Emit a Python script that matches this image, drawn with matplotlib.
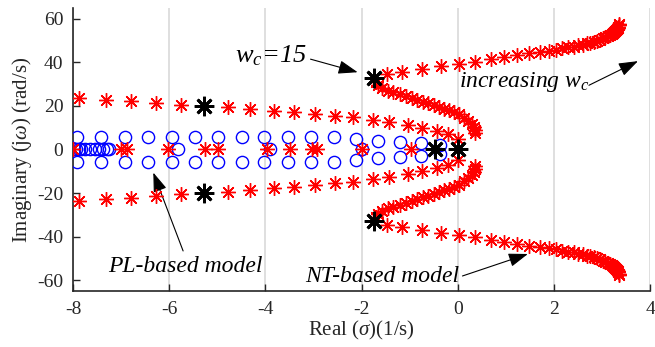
import matplotlib
matplotlib.use("Agg")
import matplotlib.pyplot as plt
import numpy as np

plt.rcParams['font.family'] = ['Liberation Serif', 'DejaVu Serif']
plt.rcParams['mathtext.fontset'] = 'custom'
plt.rcParams['mathtext.rm'] = 'Liberation Serif'
plt.rcParams['mathtext.it'] = 'Liberation Serif:italic'
plt.rcParams['axes.unicode_minus'] = False

# ---- PL-based model poles (blue circles) ----
pl_cplx_re = [-7.92, -7.42, -6.92, -6.44, -5.94, -5.46, -4.98, -4.48, -4.02,
              -3.52, -3.06, -2.58, -2.12, -1.66, -1.20, -0.76, -0.37]
pl_cplx_im = [5.9, 5.9, 5.9, 5.9, 5.9, 5.9, 5.9, 5.9, 5.9,
              5.9, 5.8, 5.6, 5.0, 4.1, 3.5, 3.0, 2.2]
pl_real = [-7.98, -7.93, -7.88, -7.83, -7.75, -7.65, -7.55, -7.45, -7.37,
           -7.30, -7.25, -5.81, -3.90, -1.99]

# ---- NT-based model poles (red asterisks) ----
# branch starting near (-8, +/-23)
nt_mid_re = [-7.875, -7.31, -6.79, -6.27, -5.75, -4.77, -4.31, -3.83, -3.40,
             -2.96, -2.56, -2.17, -1.77, -1.42, -1.04, -0.75, -0.42, -0.21, 0.0]
nt_mid_im = [23.5, 22.6, 22.2, 21.2, 20.3, 19.4, 18.5, 17.5, 17.1,
             16.2, 15.2, 14.8, 13.4, 12.5, 11.1, 9.7, 8.3, 6.9, 5.0]
# inner part of the S-shaped branch
nt_s_re = [0.37, 0.36, 0.33, 0.30, 0.22, 0.14, 0.03, -0.08, -0.18, -0.29,
           -0.39, -0.50, -0.62, -0.73, -0.85, -0.96, -1.08, -1.20, -1.34,
           -1.45, -1.57, -1.65, -1.70]
nt_s_im = [7.5, 9.0, 10.5, 11.6, 13.2, 14.6, 16.3, 17.2, 18.1, 18.8,
           19.6, 20.5, 21.3, 22.0, 22.7, 23.7, 24.6, 25.4, 26.3,
           27.1, 28.1, 29.6, 31.0]
# outer part of the S-shaped branch
nt_far_re = [-1.46, -1.15, -0.74, -0.35, 0.03, 0.37, 0.69, 0.96, 1.24, 1.49,
             1.71, 1.90, 2.05, 2.18, 2.30, 2.41, 2.51, 2.60, 2.68, 2.76, 2.83,
             2.90, 2.96, 3.02, 3.07, 3.12, 3.16, 3.20, 3.23, 3.26, 3.28, 3.30,
             3.32, 3.33, 3.34, 3.35, 3.35]
nt_far_im = [34.9, 35.8, 36.9, 38.4, 39.5, 40.4, 41.5, 42.3, 43.3, 44.1,
             44.8, 45.4, 45.9, 46.4, 46.9, 47.3, 47.8, 48.2, 48.7, 49.1, 49.6,
             50.0, 50.5, 51.0, 51.5, 52.0, 52.5, 53.0, 53.5, 54.0, 54.5, 55.0,
             55.5, 56.0, 56.5, 57.0, 57.5]
nt_real = [-8.0, -7.0, -6.88, -6.02, -5.25, -4.98, -3.97, -3.48, -3.02,
           -2.92, -1.98, -0.98]

# ---- poles at w_c = 15 (black asterisks) ----
wc15_re = [-5.27, -5.27, -1.75, -1.75, -0.47, 0.0]
wc15_im = [19.8, -19.8, 32.8, -32.8, 0.0, 0.0]

xticks = [-8, -6, -4, -2, 0, 2, 4]
yticks = [-60, -40, -20, 0, 20, 40, 60]

fig = plt.figure(figsize=(6.55, 3.47), dpi=100)
ax = fig.add_axes([73 / 655, 1 - 291 / 347, 577 / 655, 283 / 347])

star = (8, 2, 0)

def conj(re, im):
    re = np.asarray(re)
    im = np.asarray(im)
    return np.concatenate([re, re]), np.concatenate([im, -im])

bx, by = conj(pl_cplx_re, pl_cplx_im)
bx = np.concatenate([bx, pl_real])
by = np.concatenate([by, np.zeros(len(pl_real))])
ax.plot(bx, by, linestyle='none', marker='o', markersize=8.8,
        markerfacecolor='none', markeredgecolor='#0000ff', markeredgewidth=1.0,
        zorder=3)

rx, ry = [], []
for re, im in [(nt_mid_re, nt_mid_im), (nt_s_re, nt_s_im), (nt_far_re, nt_far_im)]:
    a, b = conj(re, im)
    rx.append(a)
    ry.append(b)
rx.append(np.asarray(nt_real))
ry.append(np.zeros(len(nt_real)))
rx = np.concatenate(rx)
ry = np.concatenate(ry)
ax.plot(rx, ry, linestyle='none', marker=star, markersize=10.5,
        markeredgecolor='#ff0000', markerfacecolor='#ff0000', markeredgewidth=1.0,
        zorder=4)

ax.plot(wc15_re, wc15_im, linestyle='none', marker=star, markersize=14,
        markeredgecolor='k', markeredgewidth=2.0, zorder=5)

ax.set_xlim(-8, 4)
ax.set_ylim(-65, 65)
ax.set_xticks(xticks)
ax.set_yticks(yticks)
ax.set_xticklabels([str(v) for v in xticks])
ax.set_yticklabels([str(v) for v in yticks])
ax.tick_params(direction='in', length=5, width=1.0, labelsize=14,
               colors='#262626', pad=7)
ax.grid(axis='x', color='#d9d9d9', linewidth=1.2)
ax.set_axisbelow(True)
for s in ['top', 'right']:
    ax.spines[s].set_visible(False)
for s in ['left', 'bottom']:
    ax.spines[s].set_linewidth(1.2)
    ax.spines[s].set_color('#262626')

ax.set_xlabel(r'Real ($\sigma$)(1/s)', fontsize=15, color='#262626', labelpad=1)
ax.set_ylabel(r'Imaginary (j$\omega$) (rad/s)', fontsize=15, color='#262626',
              labelpad=2)

arrow = dict(arrowstyle='-|>,head_length=0.85,head_width=0.3', color='k',
             lw=0.8, shrinkA=0, shrinkB=0, mutation_scale=14)

ax.text(-4.63, 40.1, r'$w_c$=15', fontsize=19, style='italic')
ax.annotate('', xy=(-2.08, 35.5), xytext=(-3.06, 41.5), arrowprops=arrow)

ax.text(0.02, 28.6, r'increasing $w_c$', fontsize=17, style='italic')
ax.annotate('', xy=(3.75, 40.6), xytext=(2.73, 29.5), arrowprops=arrow)

ax.text(-7.27, -56.3, 'PL-based model', fontsize=17, style='italic')
ax.annotate('', xy=(-6.33, -10.6), xytext=(-5.71, -46.6), arrowprops=arrow)

ax.text(-3.17, -60.9, 'NT-based model', fontsize=17, style='italic')
ax.annotate('', xy=(1.46, -48.0), xytext=(0.10, -58.1), arrowprops=arrow)

fig.savefig('out.png', dpi=100)
